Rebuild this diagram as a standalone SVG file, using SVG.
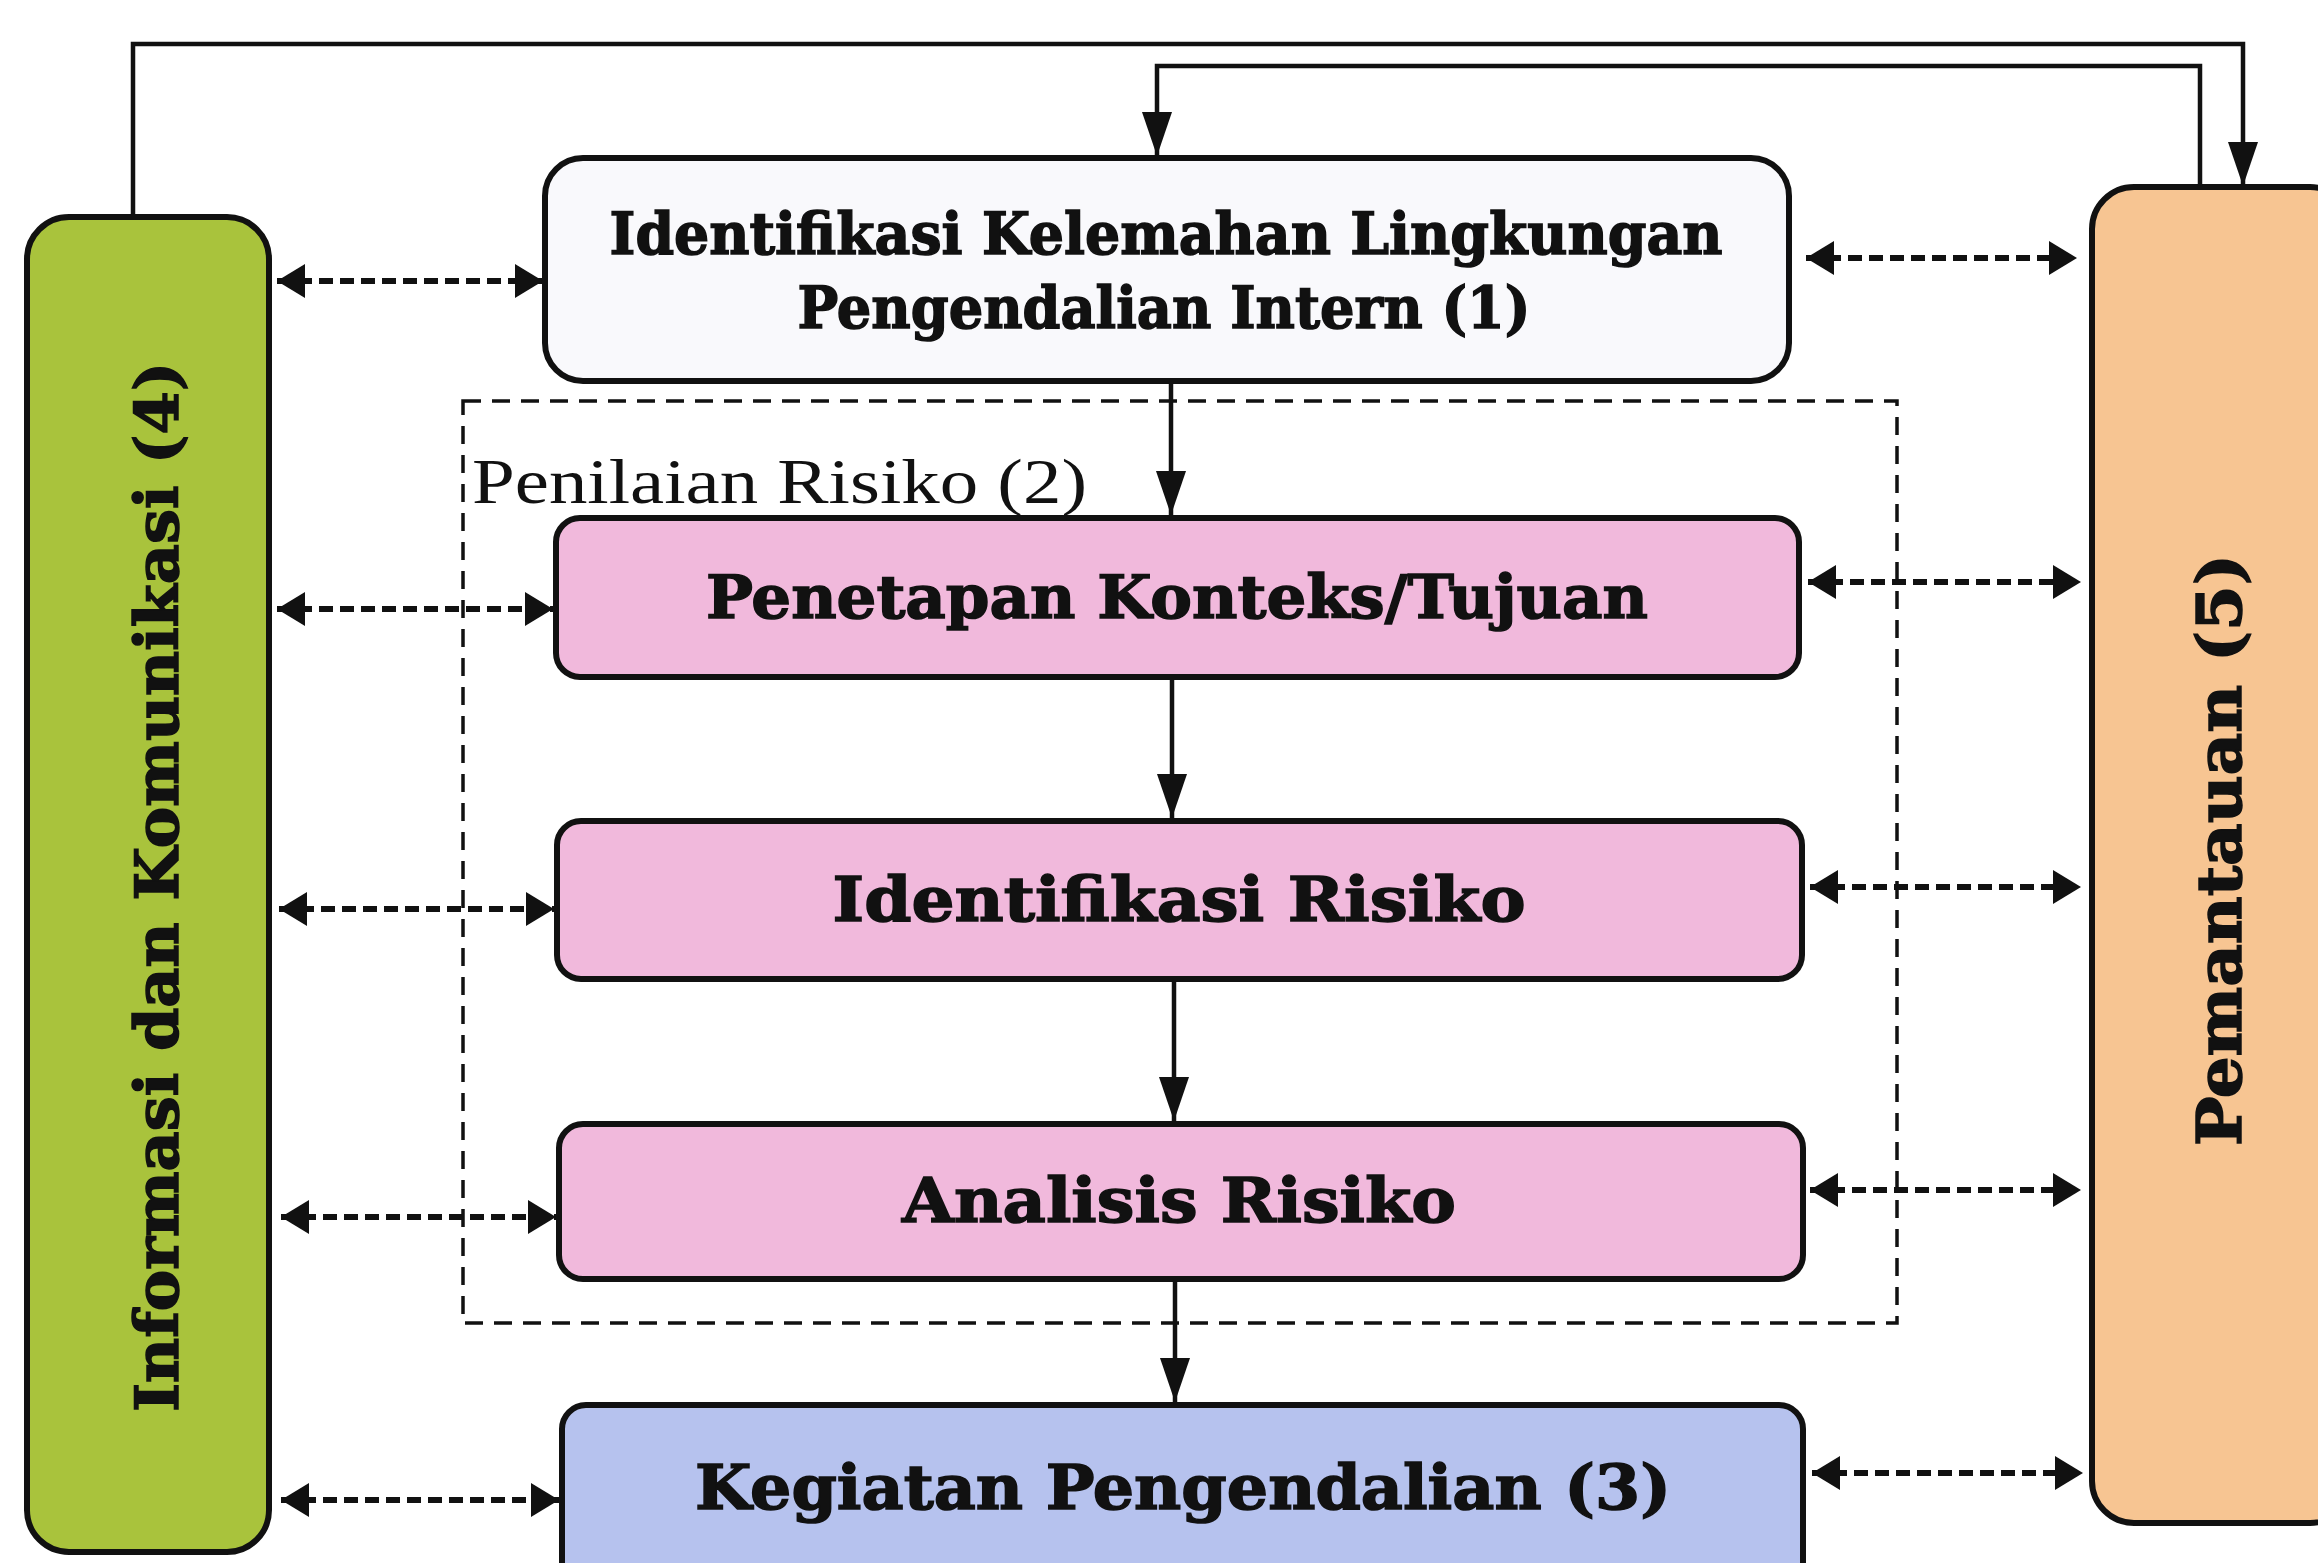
<svg xmlns="http://www.w3.org/2000/svg" width="2318" height="1563" viewBox="0 0 2318 1563">
<defs>
<style>
.box{stroke:#111;stroke-width:6}
.t{font-family:"DejaVu Serif","Liberation Serif",serif;font-weight:bold;fill:#111;stroke:#111;stroke-width:1.5;text-anchor:middle}
.lbl{font-family:"Liberation Serif","DejaVu Serif",serif;fill:#111}
.solid{fill:none;stroke:#111;stroke-width:4.5}
.dbl{fill:none;stroke:#111;stroke-width:6;stroke-dasharray:14 7}
.frame{fill:none;stroke:#111;stroke-width:3.5;stroke-dasharray:18 11}
</style>
<marker id="ah" markerUnits="userSpaceOnUse" viewBox="0 0 44 30" refX="44" refY="15" markerWidth="44" markerHeight="30" orient="auto">
<path d="M0,0 L44,15 L0,30 z" fill="#111"/>
</marker>
<marker id="dh" markerUnits="userSpaceOnUse" viewBox="0 0 28 34" refX="28" refY="17" markerWidth="28" markerHeight="34" orient="auto-start-reverse">
<path d="M0,0 L28,17 L0,34 z" fill="#111"/>
</marker>
</defs>
<rect width="2318" height="1563" fill="#ffffff"/>

<g id="frame-penilaian">
<rect class="frame" x="463" y="401" width="1434" height="922"/>
<text class="lbl" x="472" y="503" font-size="64" textLength="615" lengthAdjust="spacingAndGlyphs">Penilaian Risiko (2)</text>
</g>

<g id="node-informasi">
<rect class="box" x="27" y="217" width="242" height="1335" rx="42" fill="#a9c33c"/>
<text class="t" transform="translate(157,887) rotate(-90)" dominant-baseline="central" font-size="60" textLength="1050" lengthAdjust="spacingAndGlyphs">Informasi dan Komunikasi (4)</text>
</g>

<g id="node-pemantauan">
<rect class="box" x="2092" y="187" width="260" height="1336" rx="42" fill="#f7c592"/>
<text class="t" transform="translate(2219,850) rotate(-90)" dominant-baseline="central" font-size="62" textLength="592" lengthAdjust="spacingAndGlyphs">Pemantauan (5)</text>
</g>

<g id="node-1">
<rect class="box" x="545" y="158" width="1244" height="223" rx="38" fill="#f9f9fc"/>
<text class="t" x="1166" y="254" font-size="58" textLength="1113" lengthAdjust="spacingAndGlyphs">Identifikasi Kelemahan Lingkungan</text>
<text class="t" x="1164" y="328" font-size="58" textLength="733" lengthAdjust="spacingAndGlyphs">Pengendalian Intern (1)</text>
</g>

<g id="node-penetapan">
<rect class="box" x="556" y="518" width="1243" height="159" rx="24" fill="#f1b9dc"/>
<text class="t" x="1177" y="618" font-size="60" textLength="942" lengthAdjust="spacingAndGlyphs">Penetapan Konteks/Tujuan</text>
</g>

<g id="node-identifikasi">
<rect class="box" x="557" y="821" width="1245" height="158" rx="24" fill="#f1b9dc"/>
<text class="t" x="1179" y="921" font-size="62" textLength="693" lengthAdjust="spacingAndGlyphs">Identifikasi Risiko</text>
</g>

<g id="node-analisis">
<rect class="box" x="559" y="1124" width="1244" height="155" rx="24" fill="#f1b9dc"/>
<text class="t" x="1179" y="1222" font-size="62" textLength="554" lengthAdjust="spacingAndGlyphs">Analisis Risiko</text>
</g>

<g id="node-kegiatan">
<rect class="box" x="562" y="1405" width="1241" height="190" rx="24" fill="#b6c2ee"/>
<text class="t" x="1183" y="1509" font-size="62" textLength="976" lengthAdjust="spacingAndGlyphs">Kegiatan Pengendalian (3)</text>
</g>

<g id="connectors">
<path class="solid" d="M133,215 L133,44 L2243,44 L2243,186" marker-end="url(#ah)"/>
<path class="solid" d="M2200,187 L2200,66 L1157,66 L1157,156" marker-end="url(#ah)"/>
<path class="solid" d="M1171,383 L1171,515" marker-end="url(#ah)"/>
<path class="solid" d="M1172,680 L1172,818" marker-end="url(#ah)"/>
<path class="solid" d="M1174,982 L1174,1121" marker-end="url(#ah)"/>
<path class="solid" d="M1175,1282 L1175,1402" marker-end="url(#ah)"/>

<path class="dbl" d="M277,281 L543,281" marker-start="url(#dh)" marker-end="url(#dh)"/>
<path class="dbl" d="M277,609 L553,609" marker-start="url(#dh)" marker-end="url(#dh)"/>
<path class="dbl" d="M279,909 L554,909" marker-start="url(#dh)" marker-end="url(#dh)"/>
<path class="dbl" d="M281,1217 L556,1217" marker-start="url(#dh)" marker-end="url(#dh)"/>
<path class="dbl" d="M281,1500 L559,1500" marker-start="url(#dh)" marker-end="url(#dh)"/>

<path class="dbl" d="M1806,258 L2077,258" marker-start="url(#dh)" marker-end="url(#dh)"/>
<path class="dbl" d="M1808,582 L2081,582" marker-start="url(#dh)" marker-end="url(#dh)"/>
<path class="dbl" d="M1810,887 L2081,887" marker-start="url(#dh)" marker-end="url(#dh)"/>
<path class="dbl" d="M1810,1190 L2081,1190" marker-start="url(#dh)" marker-end="url(#dh)"/>
<path class="dbl" d="M1812,1473 L2083,1473" marker-start="url(#dh)" marker-end="url(#dh)"/>
</g>
</svg>
